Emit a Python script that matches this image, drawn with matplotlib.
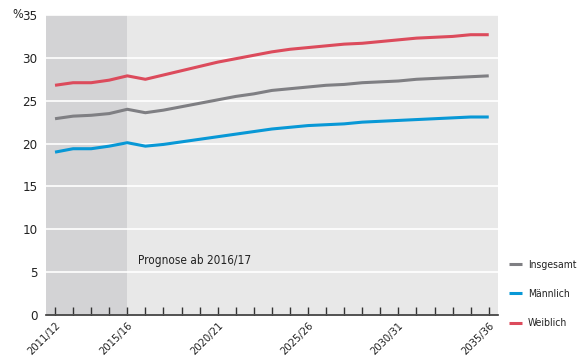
import matplotlib
matplotlib.use("Agg")
import matplotlib.pyplot as plt
import numpy as np

# Data: share in %, school years 2011/12 .. 2035/36
years = [f"{y}/{str(y + 1)[-2:]}" for y in range(2011, 2036)]
insgesamt = [22.9, 23.2, 23.3, 23.5, 24.0, 23.6, 23.9, 24.3, 24.7, 25.1, 25.5, 25.8, 26.2,
             26.4, 26.6, 26.8, 26.9, 27.1, 27.2, 27.3, 27.5, 27.6, 27.7, 27.8, 27.9]
maennlich = [19.0, 19.4, 19.4, 19.7, 20.1, 19.7, 19.9, 20.2, 20.5, 20.8, 21.1, 21.4, 21.7,
             21.9, 22.1, 22.2, 22.3, 22.5, 22.6, 22.7, 22.8, 22.9, 23.0, 23.1, 23.1]
weiblich = [26.8, 27.1, 27.1, 27.4, 27.9, 27.5, 28.0, 28.5, 29.0, 29.5, 29.9, 30.3, 30.7,
            31.0, 31.2, 31.4, 31.6, 31.7, 31.9, 32.1, 32.3, 32.4, 32.5, 32.7, 32.7]
labelled = ["2011/12", "2015/16", "2020/21", "2025/26", "2030/31", "2035/36"]
series = [("Insgesamt", insgesamt, "#7f7f83"),
          ("Männlich", maennlich, "#0898d6"),
          ("Weiblich", weiblich, "#dc4b5c")]

plt.rcParams["font.family"] = ["DejaVu Sans"]
plt.rcParams["font.stretch"] = "condensed"
plt.rcParams["text.color"] = "#222222"

fig = plt.figure(figsize=(5.77, 3.57), dpi=100)
ax = fig.add_axes([0.0797, 0.1176, 0.783, 0.8404])

x = np.arange(len(years))
ax.set_facecolor("#e8e8e8")
ax.axvspan(-0.5, years.index("2015/16"), color="#d3d3d5", lw=0, zorder=0)

for name, vals, col in series:
    ax.plot(x, vals, color=col, lw=2.2, label=name, zorder=3, solid_capstyle="butt")

ax.set_ylim(0, 35)
ax.set_xlim(-0.5, len(years) - 0.5)
ax.set_yticks(range(0, 36, 5))
ax.yaxis.grid(True, color="white", lw=1.2)
ax.set_axisbelow(True)
ax.tick_params(axis="y", length=0, labelsize=9.5, pad=6, labelcolor="#222222")

ax.set_xticks(x, minor=True)
ax.set_xticks([years.index(l) for l in labelled])
ax.set_xticklabels(labelled, rotation=45, ha="right", rotation_mode="anchor", fontsize=8)
ax.tick_params(axis="x", which="both", direction="in", length=6, width=1, color="#333333",
               pad=4, labelcolor="#222222")

for s in ["top", "right", "left"]:
    ax.spines[s].set_visible(False)
ax.spines["bottom"].set_color("#333333")
ax.spines["bottom"].set_linewidth(1.2)

ax.text(years.index("2015/16") + 0.6, 6.4, "Prognose ab 2016/17", fontsize=8.5, va="center")
fig.text(0.022, 0.958, "%", fontsize=9, va="center")

ax.legend(loc="center left", bbox_to_anchor=(1.025, 0.07), frameon=False, fontsize=7.5,
          handlelength=1.2, handletextpad=0.6, labelspacing=1.85, borderaxespad=0,
          borderpad=0)

fig.savefig("out.png", dpi=100, facecolor="white")
